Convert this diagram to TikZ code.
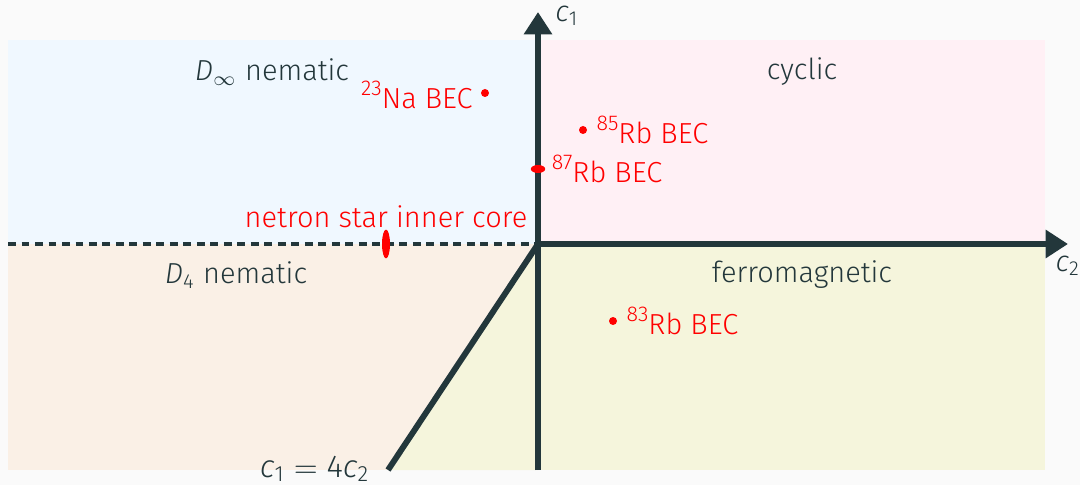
\documentclass[tikz,border=0pt]{standalone}
\usepackage{fontspec}
\setmainfont{Fira Sans}[UprightFont=* Light, ItalicFont=* Light Italic]
\usepackage{tikz}
\usetikzlibrary{arrows.meta, shapes.geometric, positioning}
\usepackage{xcolor}
\definecolor{mDark}{HTML}{23373B}
\definecolor{pageBg}{HTML}{FAFAFA}
\definecolor{rgnBlue}{RGB}{240,248,255}
\definecolor{rgnPink}{RGB}{255,240,245}
\definecolor{rgnLinen}{RGB}{250,240,230}
\definecolor{rgnBeige}{RGB}{245,245,220}
\newcommand{\cvar}[1]{{\itshape c}\textsubscript{#1}}
\newcommand{\iso}[1]{\raisebox{0.9ex}{\fontsize{7.6}{8}\selectfont #1}}

\begin{document}
\begin{tikzpicture}[x=0.0125cm, y=-0.0125cm,
          every node/.style={font=\fontsize{10.3}{12}\selectfont, text=mDark, inner sep=1pt},
          axis/.style={draw=mDark, line width=2.1pt,
                       -{Triangle[width=0.34cm, length=0.28cm]}},
          border/.style={draw=mDark, line width=2.1pt},
          phase/.style={text=mDark},
          bec/.style={text=red, anchor=west},
          dot/.style={circle, fill=red, inner sep=0pt, minimum size=0.1cm}]
        \fill[pageBg] (0,0) rectangle (1080,485);
        \useasboundingbox (0,0) rectangle (1080,485);
        % phase regions
        \fill[rgnBlue]  (8,40)    rectangle (538,244);
        \fill[rgnPink]  (538,40)  rectangle (1045,244);
        \fill[rgnLinen] (8,244)   rectangle (538,470);
        \fill[rgnBeige] (538,244) rectangle (1045,470);
        \fill[rgnBeige] (538,244) -- (388,470) -- (538,470) -- cycle;

        \coordinate (o)    at (538,244);
        \coordinate (left) at (8,244);
        \coordinate (bot)  at (538,470);
        \coordinate (top)  at (538,12);
        \coordinate (rgt)  at (1068,244);
        \coordinate (diag) at (388,470);

        \draw[border, line width=1.4pt, dash pattern=on 2.8pt off 2pt] (left) -- (o);
        \draw[border] (o) -- (diag);
        \draw[axis] (bot) -- (top);
        \draw[axis] (o) -- (rgt);
        \node (c1lbl) at (567,16)   {\cvar{1}};
        \node (c2lbl) at (1068,266) {\cvar{2}};

        % phases
        \node[phase] (dinf)  at (272,72)  {{\itshape D}\textsubscript{$\infty$} nematic};
        \node[phase] (cyc)   at (802,72)  {cyclic};
        \node[phase] (d4)    at (236,275) {{\itshape D}\textsubscript{4} nematic};
        \node[phase] (ferro) at (802,275) {ferromagnetic};
        \node[phase, anchor=east, font=\fontsize{11.2}{13}\selectfont]
             (line) at (373,469) {\cvar{1}\;$=$\;4\cvar{2}};

        % experiments
        \node[dot] (na)   at (485,93)  {};
        \node[bec, anchor=east] (nalbl) at (476,95) {\iso{23}Na BEC};
        \node[dot] (rb85) at (583,130) {};
        \node[bec] (rb85lbl) [right=2pt of rb85] {\iso{85}Rb BEC};
        \node[ellipse, fill=red, inner sep=0pt, minimum width=0.18cm,
              minimum height=0.1cm] (rb87) at (538,169) {};
        \node[bec] (rb87lbl) [right=1pt of rb87] {\iso{87}Rb BEC};
        \node[dot] (rb83) at (613,321) {};
        \node[bec] (rb83lbl) [right=2pt of rb83] {\iso{83}Rb BEC};
        \node[ellipse, fill=red, inner sep=0pt, minimum width=0.1cm,
              minimum height=0.36cm] (ns) at (386,244) {};
        \node[bec, anchor=center] (nslbl) at (386,217) {netron star inner core};
      \end{tikzpicture}
\end{document}
